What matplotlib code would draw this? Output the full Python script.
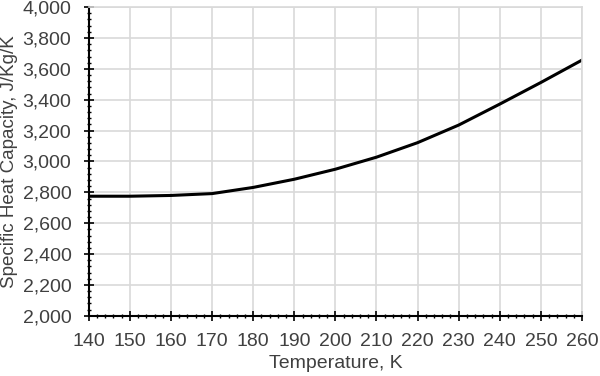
import matplotlib.pyplot as plt
from matplotlib.ticker import MultipleLocator, FuncFormatter

# data
temperature = [140, 150, 160, 170, 180, 190, 200, 210, 220, 230, 240, 250, 260]
heat_capacity = [2775, 2775, 2780, 2792, 2832, 2885, 2950, 3028, 3122, 3236, 3372, 3512, 3657]

plt.rcParams['font.family'] = ['Liberation Sans', 'DejaVu Sans']

fig = plt.figure(figsize=(6, 3.76), dpi=100)
ax = fig.add_axes([0.148, 0.16, 0.822, 0.821])

ax.plot(temperature, heat_capacity, color='black', linewidth=2.2)

ax.set_xlim(140, 260)
ax.set_ylim(2000, 4000)
ax.xaxis.set_major_locator(MultipleLocator(10))
ax.xaxis.set_minor_locator(MultipleLocator(2))
ax.yaxis.set_major_locator(MultipleLocator(200))
ax.yaxis.set_minor_locator(MultipleLocator(40))
ax.yaxis.set_major_formatter(FuncFormatter(lambda v, p: f"{int(v):,}"))

ax.grid(True, which='major', color='#d9d9d9', linewidth=1.2)
ax.set_axisbelow(True)

for side in ['top', 'right']:
    ax.spines[side].set_color('#d9d9d9')
    ax.spines[side].set_linewidth(1.2)
for side in ['left', 'bottom']:
    ax.spines[side].set_color('black')
    ax.spines[side].set_linewidth(1.5)

ax.tick_params(which='major', direction='inout', length=7, width=1.2, labelsize=14,
               labelcolor='#404040')
ax.tick_params(axis='x', which='major', pad=9)
ax.tick_params(axis='y', which='major', pad=9)
ax.tick_params(which='minor', direction='inout', length=3.5, width=1.0)
ax.tick_params(top=False, right=False, which='both')

ax.set_xlabel('Temperature, K', fontsize=14, color='#404040', va='center')
ax.set_ylabel('Specific Heat Capacity, J/Kg/K', fontsize=13.5, color='#404040', va='center')
ax.xaxis.set_label_coords(0.5, -0.155)
ax.yaxis.set_label_coords(-0.160, 0.5)

fig.savefig('out.png', dpi=100)
